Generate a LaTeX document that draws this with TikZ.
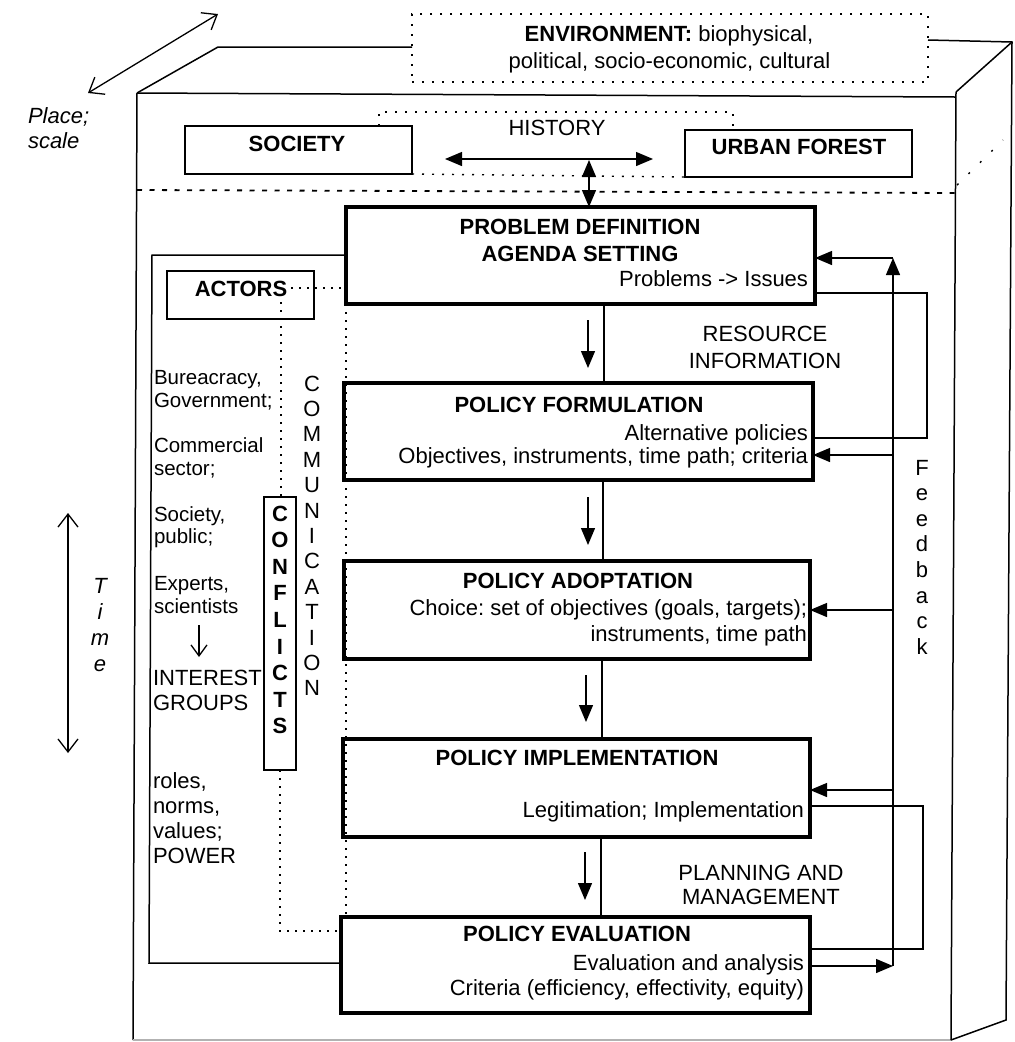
\documentclass[tikz,border=0pt]{standalone}
\usepackage{fontspec}
\setmainfont{Liberation Sans}
\usetikzlibrary{arrows.meta,calc}
\frenchspacing
\begin{document}
\begin{tikzpicture}[x=1pt,y=-1pt,
  every node/.style={inner sep=0pt, outer sep=0pt},
  txt/.style={font=\fontsize{22}{26}\selectfont},
  txts/.style={font=\fontsize{20.5}{23}\selectfont},
  bold/.style={font=\fontsize{22}{26}\selectfont\bfseries},
  ital/.style={font=\fontsize{22}{26}\selectfont\itshape},
  thinbox/.style={draw, line width=1.5pt},
  stagebox/.style={draw, line width=3.8pt},
  edge/.style={line width=1.5pt},
  conn/.style={line width=1.3pt},
  tri/.style={conn, -{Triangle[length=17pt,width=14pt]}},
  tritri/.style={conn, {Triangle[length=17pt,width=14pt]}-{Triangle[length=17pt,width=14pt]}},
  barb/.style={line width=1.3pt, {Straight Barb[length=13pt,width=20pt]}-{Straight Barb[length=13pt,width=20pt]}},
  barbone/.style={line width=1.3pt, -{Straight Barb[length=11pt,width=16pt]}},
  sepline/.style={dash pattern=on 5pt off 7.5pt, line width=1.8pt},
  fine/.style={dash pattern=on 2pt off 8pt, line width=1.4pt},
  dots/.style={dash pattern=on 2pt off 6pt, line width=1.6pt},
  sparse/.style={dash pattern=on 2pt off 14pt, line width=1.4pt},
]
\fill[white] (0,0) rectangle (1015,1042);
\useasboundingbox (0,0) rectangle (1015,1042);

% ---- the block: front face, top and right side ----
\draw[edge] (137,93) -- (955,97);
\draw[edge] (137,93) -- (133,1040);
\draw[edge, gray!60] (133,1040) -- (951,1040);
\draw[edge] (956,92) -- (951,1040);
\draw[edge] (137,93) -- (218,47) -- (412,47);
\draw[edge] (928,40) -- (1012,42) -- (1006,1020) -- (951,1040);
\draw[edge] (1012,42) -- (956,92);
\draw[sepline] (137,190) -- (955,193);
\draw[sparse] (957,185) -- (1003,140);

% ---- place / scale and time ----
\coordinate (plA) at (88,93);
\coordinate (plB) at (218,14);
\draw[barb] (plA) -- (plB);
\node[ital, anchor=base west] (place) at (28,123) {Place;};
\node[ital, anchor=base west] (scale) at (28,148) {scale};
\coordinate (tmA) at (68,513);
\coordinate (tmB) at (68,753);
\draw[barb] (tmA) -- (tmB);
\foreach \ch [count=\i from 0] in {T,i,m,e}
  \node[ital, anchor=base] (time\i) at (100,{593+26*\i}) {\ch};

% ---- environment ----
\node[draw, fine, minimum width=516pt, minimum height=68pt] (env) at (670,48) {};
\node[txt, anchor=base] (envA) at (669,41) {\textbf{ENVIRONMENT:} biophysical,};
\node[txt, anchor=base] (envB) at (669.5,68) {political, socio-economic, cultural};

% ---- society, history, urban forest ----
\node[thinbox, minimum width=227pt, minimum height=48pt] (soc) at (298.5,150) {};
\node[bold, anchor=base] (soct) at (297,151) {SOCIETY};
\node[thinbox, minimum width=227pt, minimum height=47pt] (uf) at (798.5,153.5) {};
\node[bold, anchor=base] (uft) at (799,154) {URBAN FOREST};
\coordinate (histL) at (379,112);
\coordinate (histR) at (733,112);
\draw[fine] (histL |- soc.north) -- (histL) -- (histR) -- (histR |- uf.north);
\draw[fine] (soc.south east) -- (uf.south west);
\node[txt, anchor=base] (hist) at (557,135) {HISTORY};
\coordinate (hA) at (445,159);
\coordinate (hB) at (653,159);
\draw[tritri] (hA) -- (hB);

% ---- policy stages ----
\node[stagebox, minimum width=469pt, minimum height=97pt] (prob) at (580.5,255.5) {};
\node[stagebox, minimum width=469pt, minimum height=97pt] (form) at (578.5,431.5) {};
\node[stagebox, minimum width=466pt, minimum height=98pt] (adop) at (577,610) {};
\node[stagebox, minimum width=467pt, minimum height=98pt] (impl) at (576.5,788) {};
\node[stagebox, minimum width=469pt, minimum height=96pt] (eval) at (575.5,965) {};

\coordinate (hv) at (589,160);
\draw[tritri] (hv) -- (hv |- prob.north);

\node[bold, anchor=base] (probA) at (580,234) {PROBLEM DEFINITION};
\node[bold, anchor=base] (probB) at (580,261) {AGENDA SETTING};
\node[txt, anchor=base east] (probC) at (808,286) {Problems -> Issues};

\node[bold, anchor=base] (formA) at (579,412) {POLICY FORMULATION};
\node[txt, anchor=base east] (formB) at (808,440) {Alternative policies};
\node[txt, anchor=base east] (formC) at (808,463) {Objectives, instruments, time path; criteria};

\node[bold, anchor=base] (adopA) at (578,588) {POLICY ADOPTATION};
\node[txt, anchor=base east] (adopB) at (807,615) {Choice: set of objectives (goals, targets);};
\node[txt, anchor=base east] (adopC) at (807,641) {instruments, time path};

\node[bold, anchor=base] (implA) at (577,765) {POLICY IMPLEMENTATION};
\node[txt, anchor=base east] (implB) at (804,817) {Legitimation; Implementation};

\node[bold, anchor=base] (evalA) at (577,941) {POLICY EVALUATION};
\node[txt, anchor=base east] (evalB) at (804,970) {Evaluation and analysis};
\node[txt, anchor=base east] (evalC) at (804,995) {Criteria (efficiency, effectivity, equity)};

% links between consecutive stages and the step arrows beside them
\draw[conn] (prob.south -| 604,0) -- (form.north -| 604,0);
\draw[conn] (form.south -| 603,0) -- (adop.north -| 603,0);
\draw[conn] (adop.south -| 602,0) -- (impl.north -| 602,0);
\draw[conn] (impl.south -| 601,0) -- (eval.north -| 601,0);
\coordinate (d1a) at (588,320); \coordinate (d1b) at (588,368);
\coordinate (d2a) at (588,497); \coordinate (d2b) at (588,545);
\coordinate (d3a) at (586,675); \coordinate (d3b) at (586,722);
\coordinate (d4a) at (585,852); \coordinate (d4b) at (585,900);
\draw[tri] (d1a) -- (d1b);
\draw[tri] (d2a) -- (d2b);
\draw[tri] (d3a) -- (d3b);
\draw[tri] (d4a) -- (d4b);

% ---- resource information loop ----
\coordinate (resA) at (927,293);
\coordinate (resB) at (927,438);
\draw[conn] (resA -| prob.east) -- (resA) -- (resB) -- (resB -| form.east);
\node[txt, anchor=base] (resT1) at (765,341) {RESOURCE};
\node[txt, anchor=base] (resT2) at (765,368) {INFORMATION};

% ---- planning and management loop ----
\coordinate (plnA) at (923,806);
\coordinate (plnB) at (923,949);
\draw[conn] (plnA -| impl.east) -- (plnA) -- (plnB) -- (plnB -| eval.east);
\node[txt, anchor=base] (plnT1) at (761,880) {PLANNING AND};
\node[txt, anchor=base] (plnT2) at (761,904) {MANAGEMENT};

% ---- feedback ----
\coordinate (fbBot) at (893,966);
\coordinate (fbTop) at (893,258);
\coordinate (fb2) at (893,455);
\coordinate (fb3) at (893,610);
\coordinate (fb4) at (893,790);
\draw[tri] (eval.east |- fbBot) -- (fbBot);
\draw[tri] (fbBot) -- (fbTop);
\draw[tri] (fbTop) -- (fbTop -| prob.east);
\draw[tri] (fb2) -- (fb2 -| form.east);
\draw[tri] (fb3) -- (fb3 -| adop.east);
\draw[tri] (fb4) -- (fb4 -| impl.east);
\foreach \ch [count=\i from 0] in {F,e,e,d,b,a,c,k}
  \node[txt, anchor=base] (fbl\i) at (922,{475+25.6*\i}) {\ch};

% ---- actors ----
\coordinate (actTL) at (152,255);
\coordinate (actBL) at (149,963);
\draw[edge] (prob.west |- actTL) -- (actTL) -- (actBL) -- (actBL -| eval.west);
\node[thinbox, minimum width=147pt, minimum height=48pt] (act) at (240.5,295) {};
\node[bold, anchor=base] (actT) at (241,296) {ACTORS};
\node[thinbox, minimum width=32pt, minimum height=273pt] (conf) at (280,633.5) {};
\foreach \ch [count=\i from 0] in {C,O,N,F,L,I,C,T,S}
  \node[bold, anchor=base] (cf\i) at (280,{521+26.6*\i}) {\ch};
\foreach \ch [count=\i from 0] in {C,O,M,M,U,N,I,C,A,T,I,O,N}
  \node[txt, anchor=base] (cm\i) at (312,{391+25.4*\i}) {\ch};

\coordinate (aDot) at (291,288);
\coordinate (aV) at (281,302);
\coordinate (cDot) at (280,931);
\draw[dots] (aDot) -- (aDot -| prob.west);
\draw[dots] (aV) -- (aV |- conf.north);
\draw[dots] (conf.south) -- (cDot) -- (cDot -| eval.west);
\draw[dots] (prob.south west) -- (prob.south west |- eval.north);

\node[txts, anchor=base west] (g1) at (154,384) {Bureacracy,};
\node[txts, anchor=base west] (g2) at (154,407) {Government;};
\node[txts, anchor=base west] (g3) at (154,452) {Commercial};
\node[txts, anchor=base west] (g4) at (154,475) {sector;};
\node[txts, anchor=base west] (g5) at (154,521) {Society,};
\node[txts, anchor=base west] (g6) at (154,543) {public;};
\node[txts, anchor=base west] (g7) at (154,590) {Experts,};
\node[txts, anchor=base west] (g8) at (154,613) {scientists};
\coordinate (igA) at (199,625);
\coordinate (igB) at (199,657);
\draw[barbone] (igA) -- (igB);
\node[txt, anchor=base west] (g9) at (153,685) {INTEREST};
\node[txt, anchor=base west] (g10) at (153,710) {GROUPS};
\node[txt, anchor=base west] (g11) at (153,788) {roles,};
\node[txt, anchor=base west] (g12) at (153,813) {norms,};
\node[txt, anchor=base west] (g13) at (153,838) {values;};
\node[txt, anchor=base west] (g14) at (153,863) {POWER};
\end{tikzpicture}
\end{document}
